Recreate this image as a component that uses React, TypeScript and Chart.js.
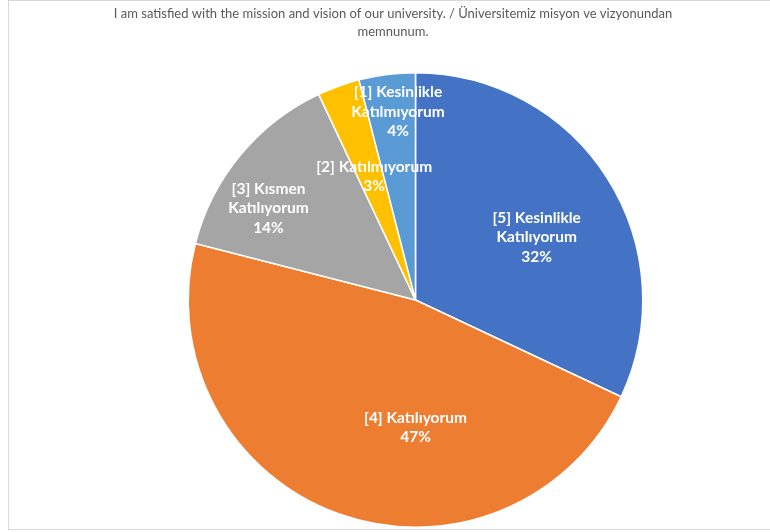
import React, { useEffect, useRef } from "react";
import { Chart, registerables } from "chart.js";

Chart.register(...registerables);

const titleLines = [
  "I am satisfied with the mission and vision of our university. / Üniversitemiz misyon ve vizyonundan",
  "memnunum.",
];
const categories = [
  "[5] Kesinlikle Katılıyorum",
  "[4] Katılıyorum",
  "[3] Kısmen Katılıyorum",
  "[2] Katılmıyorum",
  "[1] Kesinlikle Katılmıyorum",
];
const labelLines = [
  ["[5] Kesinlikle", "Katılıyorum"],
  ["[4] Katılıyorum"],
  ["[3] Kısmen", "Katılıyorum"],
  ["[2] Katılmıyorum"],
  ["[1] Kesinlikle", "Katılmıyorum"],
];
const values = [32, 47, 14, 3, 4];
const colors = ["#4472C4", "#ED7D31", "#A5A5A5", "#FFC000", "#5B9BD5"];

// label anchor offsets relative to pie centre, in units of radius
const labelOffsets = [
  [0.533, -0.276],
  [0.0, 0.561],
  [-0.647, -0.404],
  [-0.182, -0.544],
  [-0.077, -0.829],
];

const FONT = "Lato, 'Open Sans', sans-serif";

const overlayPlugin = {
  id: "overlay",
  afterDraw(chart: any) {
    const ctx = chart.ctx;
    ctx.save();
    // title
    ctx.fillStyle = "#595959";
    ctx.font = `13px ${FONT}`;
    ctx.textAlign = "center";
    ctx.textBaseline = "middle";
    titleLines.forEach((t, i) => ctx.fillText(t, 393, 14 + i * 18));

    const meta = chart.getDatasetMeta(0);
    const arc0 = meta.data[0];
    const cx = arc0.x;
    const cy = arc0.y;
    const r = arc0.outerRadius;
    const total = values.reduce((a, b) => a + b, 0);
    ctx.fillStyle = "#ffffff";
    ctx.font = `bold 15.5px ${FONT}`;
    const lh = 19.5;
    values.forEach((v, i) => {
      const lines = [...labelLines[i], `${Math.round((v / total) * 100)}%`];
      const x = cx + labelOffsets[i][0] * r;
      const y = cy + labelOffsets[i][1] * r;
      const y0 = y - ((lines.length - 1) * lh) / 2;
      lines.forEach((l, j) => ctx.fillText(l, x, y0 + j * lh));
    });
    ctx.restore();
  },
};

export default function App() {
  const ref = useRef<HTMLCanvasElement>(null);
  useEffect(() => {
    if (!ref.current) return;
    const chart = new Chart(ref.current, {
      type: "pie",
      data: {
        labels: categories,
        datasets: [
          {
            data: values,
            backgroundColor: colors,
            borderColor: "#ffffff",
            borderWidth: 1.5,
          },
        ],
      },
      options: {
        responsive: false,
        animation: false,
        layout: { padding: { top: 72, bottom: 4, left: 187.5, right: 126.5 } },
        plugins: {
          legend: { display: false },
          tooltip: { enabled: false },
          title: { display: false },
        },
      },
      plugins: [overlayPlugin],
    });
    return () => chart.destroy();
  }, []);
  return (
    <div>
      <div
        style={{
          position: "fixed",
          left: 8,
          top: 0,
          width: 790,
          height: 530,
          border: "1px solid #d9d9d9",
          boxSizing: "border-box",
          background: "#fff",
        }}
      />
      <canvas
        ref={ref}
        width={770}
        height={532}
        style={{ position: "fixed", left: 0, top: 0, width: 770, height: 532 }}
      />
    </div>
  );
}
